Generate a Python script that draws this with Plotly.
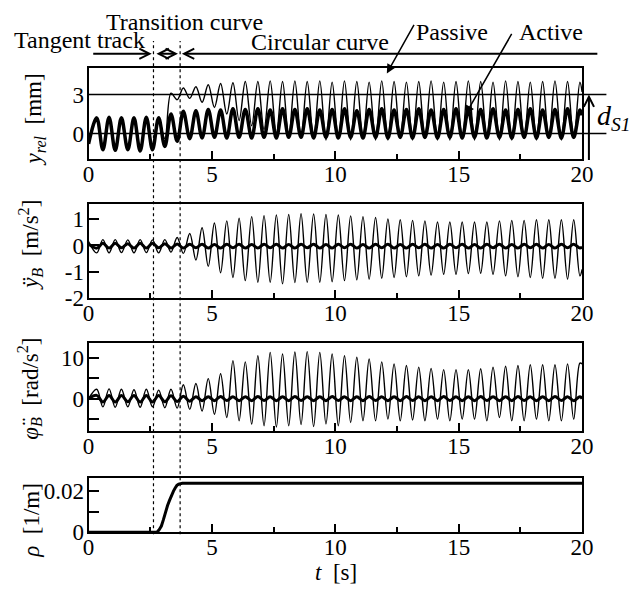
import plotly.graph_objects as go

# ---------------- data ----------------
# times of oscillation extrema (s)
t_pk = [0.33, 0.83, 1.33, 1.84, 2.34, 2.84, 3.34, 3.84, 4.35, 4.85, 5.35, 5.85, 6.35, 6.86,
        7.36, 7.86, 8.36, 8.86, 9.37, 9.87, 10.37, 10.87, 11.37, 11.88, 12.38, 12.88, 13.38,
        13.88, 14.39, 14.89, 15.39, 15.89, 16.39, 16.90, 17.40, 17.90, 18.40, 18.90, 19.41, 19.91]
t_tr = [0.58, 1.08, 1.59, 2.09, 2.59, 3.09, 3.59, 4.10, 4.60, 5.10, 5.60, 6.10, 6.61, 7.11,
        7.61, 8.11, 8.61, 9.12, 9.62, 10.12, 10.62, 11.12, 11.63, 12.13, 12.63, 13.13, 13.63,
        14.14, 14.64, 15.14, 15.64, 16.14, 16.65, 17.15, 17.65, 18.15, 18.65, 19.16, 19.66]
t_start, t_end = 0.0, 20.0

# y_rel [mm]
yrel_pas_pk = [1.15, 1.2, 1.15, 1.15, 1.2, 1.15, 3.1, 3.5, 3.6, 3.75, 3.85, 3.9, 4.0, 4.0, 4.05,
               4.0, 4.05, 4.0, 4.05, 3.95, 4.05, 4.0, 3.95, 4.05, 4.0, 3.95, 4.0, 4.05, 3.95, 4.0,
               4.05, 4.0, 3.95, 4.05, 4.0, 3.95, 4.0, 4.05, 4.0, 3.95]
yrel_pas_tr = [-1.2, -1.25, -1.2, -1.3, -1.2, -0.4, 2.6, 2.7, 2.4, 2.0, 1.5, 1.0, 0.6, 0.3, 0.0,
               -0.2, -0.3, -0.4, -0.5, -0.4, -0.5, -0.4, -0.5, -0.5, -0.4, -0.5, -0.4, -0.5,
               -0.5, -0.4, -0.5, -0.4, -0.5, -0.5, -0.4, -0.5, -0.4, -0.5, -0.4]
yrel_pas_ends = [-0.8, 3.2]
yrel_act_pk = [1.2, 1.25, 1.2, 1.2, 1.25, 1.2, 1.5, 1.7, 1.75, 1.85, 1.8, 1.9, 1.85, 1.9, 1.8,
               1.9, 1.85, 1.9, 1.8, 1.85, 1.9, 1.75, 1.85, 1.9, 1.8, 1.85, 1.9, 1.8, 1.85, 1.9,
               1.8, 1.85, 1.9, 1.8, 1.85, 1.9, 1.8, 1.85, 1.9, 1.8]
yrel_act_tr = [-1.25, -1.3, -1.25, -1.35, -1.25, -1.0, -0.6, -0.4, -0.35, -0.3, -0.35, -0.3,
               -0.35, -0.3, -0.35, -0.3, -0.3, -0.35, -0.3, -0.35, -0.3, -0.35, -0.3, -0.35,
               -0.3, -0.35, -0.3, -0.35, -0.3, -0.35, -0.3, -0.35, -0.3, -0.35, -0.3, -0.35,
               -0.3, -0.35, -0.3]
yrel_act_ends = [-0.8, 1.4]

# y_B acceleration [m/s^2]
acc_pas_pk = [-0.28, -0.28, -0.27, -0.28, -0.27, -0.28, -0.25, -0.3, -0.55, -0.79, -1.03, -1.21,
              -1.33, -1.39, -1.39, -1.45, -1.40, -1.39, -1.39, -1.37, -1.33, -1.30, -1.27, -1.24,
              -1.21, -1.18, -1.15, -1.12, -1.09, -1.09, -1.06, -1.05, -1.09, -1.15, -1.18, -1.21,
              -1.24, -1.24, -1.27, -1.15]
acc_pas_tr = [0.22, 0.22, 0.21, 0.22, 0.21, 0.22, 0.3, 0.45, 0.67, 0.85, 0.93, 1.03, 1.09, 1.13,
              1.15, 1.17, 1.2, 1.19, 1.17, 1.15, 1.12, 1.09, 1.06, 1.0, 0.97, 0.95, 0.93, 0.89,
              0.89, 0.89, 0.89, 0.89, 0.93, 0.95, 0.95, 0.97, 0.97, 0.97, 0.97]
acc_pas_ends = [0.15, -0.9]
acc_act_pk = [-0.1, -0.1, -0.09, -0.1, -0.1, -0.09, -0.1, -0.1, -0.09, -0.1, -0.1, -0.09, -0.1,
              -0.1, -0.09, -0.1, -0.1, -0.09, -0.1, -0.1, -0.09, -0.1, -0.1, -0.09, -0.1, -0.1,
              -0.09, -0.1, -0.1, -0.09, -0.1, -0.1, -0.09, -0.1, -0.1, -0.09, -0.1, -0.1, -0.09, -0.1]
acc_act_tr = [0.08, 0.08, 0.07, 0.08, 0.08, 0.07, 0.06, 0.05, 0.05, 0.04, 0.05, 0.05, 0.04,
              0.05, 0.05, 0.04, 0.05, 0.05, 0.04, 0.05, 0.05, 0.04, 0.05, 0.05, 0.04, 0.05,
              0.05, 0.04, 0.05, 0.05, 0.04, 0.05, 0.05, 0.04, 0.05, 0.05, 0.04, 0.05, 0.05]
acc_act_ends = [0.05, -0.05]

# phi_B acceleration [rad/s^2]
rol_pas_pk = [2.3, 2.4, 2.3, 2.2, 2.3, 2.1, 2.3, 3.4, 3.7, 4.9, 6.1, 9.3, 9.0, 10.5, 11.3, 10.9,
              11.4, 11.5, 11.3, 10.9, 10.5, 10.1, 9.7, 9.0, 8.5, 8.1, 7.7, 7.4, 7.1, 7.1, 7.1,
              7.3, 7.7, 7.9, 8.1, 8.3, 8.3, 8.3, 8.5, 8.7]
rol_pas_tr = [-2.0, -2.1, -2.0, -2.1, -2.0, -2.2, -2.3, -2.6, -3.0, -3.8, -4.6, -5.4, -6.2,
              -6.6, -6.9, -6.6, -6.3, -6.8, -6.2, -6.6, -5.8, -5.4, -5.4, -5.0, -5.4, -5.2,
              -5.4, -5.0, -5.4, -5.0, -5.0, -5.4, -4.6, -5.4, -5.4, -5.0, -5.4, -5.4, -5.0]
rol_pas_ends = [0.0, 8.5]
rol_act_pk = [0.8, 0.8, 0.75, 0.8, 0.8, 0.75, 0.7, 0.6, 0.5, 0.5, 0.55, 0.5, 0.5, 0.55, 0.5,
              0.5, 0.55, 0.5, 0.5, 0.55, 0.5, 0.5, 0.55, 0.5, 0.5, 0.55, 0.5, 0.5, 0.55, 0.5,
              0.5, 0.55, 0.5, 0.5, 0.55, 0.5, 0.5, 0.55, 0.5, 0.5]
rol_act_tr = [-0.8, -0.8, -0.75, -0.8, -0.8, -0.75, -0.7, -0.6, -0.5, -0.5, -0.45, -0.5, -0.5,
              -0.45, -0.5, -0.5, -0.45, -0.5, -0.5, -0.45, -0.5, -0.5, -0.45, -0.5, -0.5,
              -0.45, -0.5, -0.5, -0.45, -0.5, -0.5, -0.45, -0.5, -0.5, -0.45, -0.5, -0.5,
              -0.45, -0.5]
rol_act_ends = [0.0, 0.0]

# track curvature rho [1/m]
rho_t = [0.0, 2.77, 2.85, 2.95, 3.03, 3.12, 3.20, 3.28, 3.36, 3.44, 3.51, 3.58, 3.65, 3.71,
         3.80, 20.0]
rho_v = [0.0, 0.0, 0.001, 0.003, 0.006, 0.010, 0.013, 0.0155, 0.018, 0.020, 0.0215, 0.0228,
         0.0234, 0.0237, 0.0238, 0.0238]

# section boundaries (s)
t_transition = [2.63, 3.71]


def weave(pk, tr, ends):
    pts = [(t_start, ends[0])] + list(zip(t_pk, pk)) + list(zip(t_tr, tr)) + [(t_end, ends[1])]
    pts.sort(key=lambda p: p[0])
    return [p[0] for p in pts], [p[1] for p in pts]


FONT = "Liberation Serif, Times New Roman, serif"
W, H = 632, 600
XL, XR = 85, 593


def px(x):
    return x / W


def py(y):
    return 1 - y / H


fig = go.Figure()

panels = [
    (yrel_pas_pk, yrel_pas_tr, yrel_pas_ends, yrel_act_pk, yrel_act_tr, yrel_act_ends, 1.4, 3.5),
    (acc_pas_pk, acc_pas_tr, acc_pas_ends, acc_act_pk, acc_act_tr, acc_act_ends, 1.4, 3.0),
    (rol_pas_pk, rol_pas_tr, rol_pas_ends, rol_act_pk, rol_act_tr, rol_act_ends, 1.4, 3.0),
]
for i, (ppk, ptr, pe, apk, atr, ae, wp, wa) in enumerate(panels):
    ax = "" if i == 0 else str(i + 1)
    tx, vx = weave(ppk, ptr, pe)
    fig.add_trace(go.Scatter(x=tx, y=vx, mode="lines", name="Passive",
                             line=dict(color="black", width=wp, shape="spline", smoothing=1.0),
                             xaxis="x" + ax, yaxis="y" + ax, showlegend=False))
    tx, vx = weave(apk, atr, ae)
    fig.add_trace(go.Scatter(x=tx, y=vx, mode="lines", name="Active",
                             line=dict(color="black", width=wa, shape="spline", smoothing=1.0),
                             xaxis="x" + ax, yaxis="y" + ax, showlegend=False))

fig.add_trace(go.Scatter(x=rho_t, y=rho_v, mode="lines", name="rho",
                         line=dict(color="black", width=3.0),
                         xaxis="x4", yaxis="y4", showlegend=False))

tickfont = dict(family=FONT, size=23, color="black")
domains = [(163, 70), (305, 209), (441, 351), (544, 489)]
yranges = [[-2.0, 5.0], [-2.0, 1.55], [-8.0, 13.5], [0.0, 0.0262]]
ytv = [[0, 3], [-2, -1, 0, 1], [-5, 0, 5, 10], [0, 0.01, 0.02]]
ytt = [["0", "3"], ["-2", "-1", "0", "1"], ["", "0", "", "10"], ["0", "", "0.02"]]
yticks = ["", "inside", "inside", "inside"]

lay = {}
for i in range(4):
    s = "" if i == 0 else str(i + 1)
    lay["xaxis" + s] = dict(domain=[px(XL), px(XR)], anchor="y" + s, range=[0, 20],
                            showline=True, mirror=True, linewidth=2, linecolor="black",
                            ticks="inside", ticklen=8, tickwidth=1.5, tickcolor="black",
                            tickvals=[0, 5, 10, 15, 20], ticktext=["0", "5", "10", "15", "20"],
                            minor=dict(tickvals=[2.5, 7.5, 12.5, 17.5], ticks="inside",
                                       ticklen=5, tickwidth=1.5, tickcolor="black"),
                            ticklabelstandoff=-7,
                            showgrid=False, zeroline=False, tickfont=tickfont)
    lay["yaxis" + s] = dict(domain=[py(domains[i][0]), py(domains[i][1])], anchor="x" + s,
                            range=yranges[i], showline=True, mirror=True, linewidth=2,
                            linecolor="black", ticks=yticks[i], ticklen=10, tickwidth=1.5,
                            tickcolor="black", tickvals=ytv[i], ticktext=ytt[i],
                            ticklabelstandoff=-2,
                            showgrid=False, zeroline=False, tickfont=tickfont)

shapes = []
for tv in t_transition:
    shapes.append(dict(type="line", xref="x", yref="paper", x0=tv, x1=tv,
                       y0=py(546), y1=py(42), line=dict(color="black", width=1.2, dash="dot")))
for lv in [0, 3]:
    shapes.append(dict(type="line", xref="paper", yref="y", x0=px(XL), x1=px(618),
                       y0=lv, y1=lv, line=dict(color="black", width=1.6)))

ann = []
tf = dict(family=FONT, size=24, color="black")
for txt, x, y in [("Transition curve", 184, 22), ("Tangent track", 76, 41),
                  ("Circular curve", 323, 43), ("Passive", 459, 33), ("Active", 561, 33)]:
    ann.append(dict(text=txt, x=px(x), y=py(y), xref="paper", yref="paper",
                    showarrow=False, font=tf, xanchor="center", yanchor="middle"))


def arrow(x0, y0, x1, y1, head=5, width=2.0, size=1.0, side="end"):
    # head at (x1, y1), tail offset in pixels
    return dict(text="", xref="paper", yref="paper", axref="pixel", ayref="pixel",
                x=px(x1), y=py(y1), ax=x0 - x1, ay=y0 - y1, showarrow=True,
                arrowhead=head, startarrowhead=head, arrowside=side, arrowwidth=width,
                arrowsize=size, startarrowsize=size, arrowcolor="black")


ann.append(arrow(90, 55, 150, 55))
ann.append(arrow(154, 55, 177, 55, side="end+start"))
ann.append(arrow(598, 55, 181, 55))
ann.append(arrow(420, 25, 392, 75, head=2, width=1.5, size=1.2))
ann.append(arrow(520, 35, 473, 117, head=2, width=1.5, size=1.2))
# d_S1 arrow (from bottom of panel up to the 3 mm line)
ann.append(dict(text="", xref="paper", yref="y", axref="pixel", ayref="pixel",
                x=px(600), y=3, ax=0, ay=67, showarrow=True, arrowhead=5,
                arrowwidth=2, arrowsize=1, arrowcolor="black"))
ann.append(dict(text="<i>d</i><sub><i>S1</i></sub>", x=px(606), y=1.2, xref="paper", yref="y",
                showarrow=False, xanchor="left", font=dict(family=FONT, size=28, color="black")))

ytf = dict(family=FONT, size=23, color="black")
for txt, x, y in [("<i>y</i><sub><i>rel</i></sub>  [mm]", 30, 122),
                  ("<i>ÿ</i><sub><i>B</i></sub>  [m/s<sup>2</sup>]", 25, 250),
                  ("<i>φ̈</i><sub><i>B</i></sub>  [rad/s<sup>2</sup>]", 24, 397),
                  ("<i>ρ</i>  [1/m]", 26, 532)]:
    ann.append(dict(text=txt, x=px(x), y=py(y), xref="paper", yref="paper", textangle=-90,
                    showarrow=False, font=ytf, xanchor="center", yanchor="middle"))
ann.append(dict(text="<i>t</i>  [s]", x=px(340), y=py(585), xref="paper", yref="paper",
                showarrow=False, font=ytf, xanchor="center", yanchor="middle"))

fig.update_layout(width=W, height=H, margin=dict(l=0, r=0, t=0, b=0),
                  paper_bgcolor="white", plot_bgcolor="white", showlegend=False,
                  shapes=shapes, annotations=ann, **lay)

fig.write_html("out.html")
